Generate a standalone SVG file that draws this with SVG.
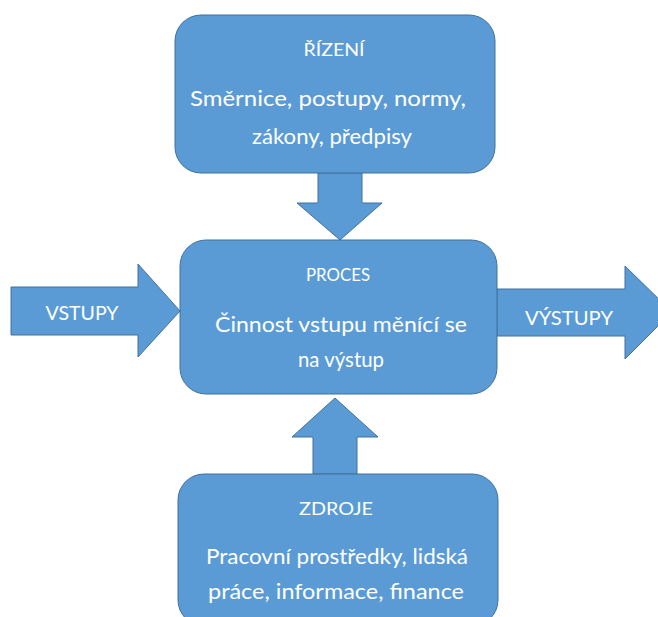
<svg xmlns="http://www.w3.org/2000/svg" width="658" height="617" viewBox="0 0 658 617">
  <style>
    .shape { fill: #5B9BD5; stroke: #41719C; stroke-width: 1; }
    .title { font-family: Lato, "Open Sans", "Liberation Sans", sans-serif; font-size: 17px; fill: #FFFFFF; text-anchor: middle; }
    .body { font-family: Lato, "Open Sans", "Liberation Sans", sans-serif; font-size: 21px; fill: #FFFFFF; text-anchor: middle; }
    .label { font-family: Lato, "Open Sans", "Liberation Sans", sans-serif; font-size: 19px; fill: #FFFFFF; text-anchor: middle; }
  </style>

  <!-- block arrows between the process and its surroundings -->
  <g id="connectors">
    <!-- control flows down into the process -->
    <polygon class="shape" points="318,173 362,173 362,203 382,203 340,240 297,203 318,203"/>
    <!-- resources flow up into the process -->
    <polygon class="shape" points="313,474 357,474 357,437 378,437 335,398 292,437 313,437"/>
    <!-- inputs -->
    <g id="vstupy">
      <polygon class="shape" points="11,287 138,287 138,264 180,311 138,357 138,335 11,335"/>
      <text class="label" x="82" y="320" textLength="73" lengthAdjust="spacingAndGlyphs">VSTUPY</text>
    </g>
    <!-- outputs -->
    <g id="vystupy">
      <polygon class="shape" points="497,289 625,289 625,266 672,312 625,359 625,336 497,336"/>
      <text class="label" x="569" y="325" textLength="88" lengthAdjust="spacingAndGlyphs">VÝSTUPY</text>
    </g>
  </g>

  <g id="rizeni">
    <rect class="shape" x="175" y="15" width="320" height="158" rx="26" ry="26"/>
    <text class="title" x="334" y="56" textLength="61" lengthAdjust="spacingAndGlyphs">ŘÍZENÍ</text>
    <text class="body" x="328" y="106" textLength="276" lengthAdjust="spacingAndGlyphs">Směrnice, postupy, normy,</text>
    <text class="body" x="332" y="144" textLength="160" lengthAdjust="spacingAndGlyphs">zákony, předpisy</text>
  </g>

  <g id="proces">
    <rect class="shape" x="180" y="240" width="317" height="154" rx="26" ry="26"/>
    <text class="title" x="338" y="281" textLength="64" lengthAdjust="spacingAndGlyphs">PROCES</text>
    <text class="body" x="341" y="332" textLength="252" lengthAdjust="spacingAndGlyphs">Činnost vstupu měnící se</text>
    <text class="body" x="341" y="367" textLength="86" lengthAdjust="spacingAndGlyphs">na výstup</text>
  </g>

  <g id="zdroje">
    <rect class="shape" x="178" y="474" width="320" height="152" rx="26" ry="26"/>
    <text class="title" x="336" y="515" textLength="74" lengthAdjust="spacingAndGlyphs">ZDROJE</text>
    <text class="body" x="337" y="564" textLength="262" lengthAdjust="spacingAndGlyphs">Pracovní prostředky, lidská</text>
    <text class="body" x="336" y="599" textLength="256" lengthAdjust="spacingAndGlyphs">práce, informace, finance</text>
  </g>
</svg>
